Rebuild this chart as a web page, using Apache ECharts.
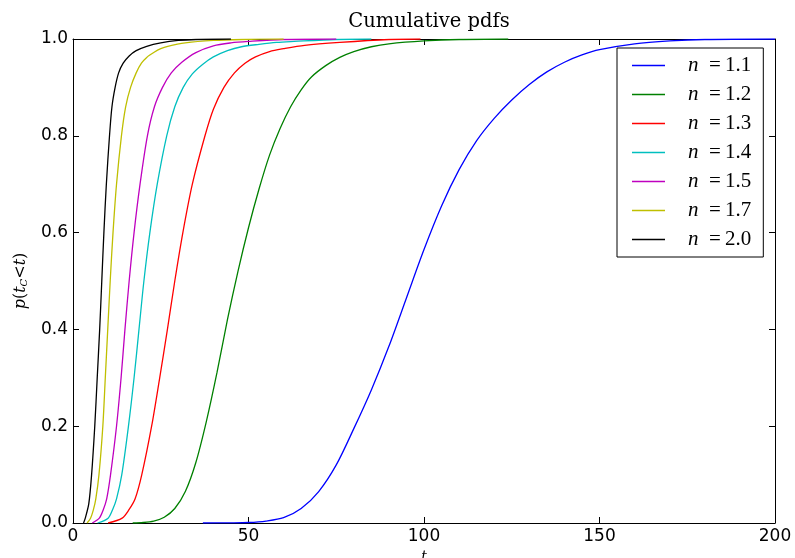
<!DOCTYPE html>
<html>
<head>
<meta charset="utf-8">
<script src="https://cdn.jsdelivr.net/npm/echarts@6/dist/echarts.min.js"></script>
<style>html,body{margin:0;padding:0;background:#fff}#c{width:795px;height:558px}</style>
</head>
<body>
<div id="c"></div>
<script>
// ---- data (t, p(t_C < t)) ----
const seriesNames = ['n=1.1', 'n=1.2', 'n=1.3', 'n=1.4', 'n=1.5', 'n=1.7', 'n=2.0'];
const seriesColors = ['#0000ff', '#008000', '#ff0000', '#00bfbf', '#bf00bf', '#bfbf00', '#000000'];
const xTicks = [0, 50, 100, 150, 200];
const yTicks = [0.0, 0.2, 0.4, 0.6, 0.8, 1.0];

const n11 = [[37,0],[45,0.0003],[50,0.001],[55,0.004],[60,0.011],[65,0.03],[70,0.065],[75,0.12],[80,0.195],[85,0.275],[90,0.365],[95,0.465],[100,0.565],[105,0.655],[110,0.73],[115,0.79],[120,0.836],[125,0.874],[130,0.906],[135,0.932],[140,0.952],[145,0.967],[150,0.978],[160,0.99],[170,0.996],[180,0.999],[200,1]];
const n12 = [[17,0],[20,0.001],[23,0.004],[26,0.012],[29,0.03],[32,0.065],[35,0.125],[38,0.21],[41,0.31],[44,0.42],[47,0.52],[50,0.61],[53,0.69],[56,0.76],[59,0.815],[62,0.86],[65,0.895],[68,0.922],[72,0.945],[76,0.962],[80,0.974],[85,0.984],[90,0.99],[100,0.996],[110,0.999],[124,1]];
const n13 = [[10,0],[14,0.01],[16,0.028],[17.7,0.05],[19.6,0.1],[22.4,0.2],[24.7,0.3],[26.9,0.4],[29,0.5],[31.3,0.6],[34,0.7],[37.6,0.8],[40,0.855],[43,0.9],[46,0.93],[49,0.95],[52,0.963],[56,0.974],[60,0.98],[66,0.987],[76,0.993],[90,0.999],[99,1]];
const n14 = [[7,0],[10,0.01],[11.3,0.028],[12.4,0.05],[13.9,0.1],[15.8,0.2],[17.4,0.3],[18.8,0.4],[20.2,0.5],[21.9,0.6],[24,0.7],[26.7,0.8],[29,0.86],[31.4,0.9],[34,0.928],[37,0.948],[40,0.963],[44,0.976],[48,0.984],[53,0.989],[58,0.993],[63,0.995],[75,0.999],[85,1]];
const n15 = [[5.5,0],[7.5,0.01],[8.6,0.027],[9.6,0.05],[10.7,0.1],[12.4,0.2],[13.7,0.3],[14.8,0.4],[16,0.5],[17.4,0.6],[19.1,0.7],[21.2,0.8],[23.2,0.86],[25.5,0.9],[28,0.93],[31,0.952],[35,0.972],[40,0.986],[45,0.992],[50,0.995],[60,0.999],[75,1]];
const n17 = [[4,0],[5,0.01],[5.8,0.027],[6.5,0.05],[7.4,0.1],[8.5,0.2],[9.2,0.3],[9.9,0.4],[10.6,0.5],[11.4,0.6],[12.4,0.7],[13.8,0.8],[15,0.86],[16.4,0.9],[18,0.93],[19.5,0.95],[21,0.962],[23,0.972],[25,0.98],[27,0.985],[32,0.992],[40,0.997],[48,0.999],[60,1]];
const n20 = [[3,0],[3.5,0.01],[4.5,0.04],[5.3,0.1],[6.2,0.2],[6.9,0.3],[7.6,0.4],[8.2,0.5],[8.8,0.6],[9.5,0.7],[10.4,0.8],[11.1,0.86],[12,0.9],[13,0.93],[14.3,0.95],[16,0.965],[18,0.976],[21,0.985],[25,0.992],[30,0.997],[35,0.999],[45,1]];
const seriesData = [n11, n12, n13, n14, n15, n17, n20];

const chart = echarts.init(document.getElementById('c'), null, {renderer: 'canvas'});
const axisLineStyle = {show: true, onZero: false, lineStyle: {color: '#000', width: 1}};
const tickStyle = {show: true, inside: true, length: 6, lineStyle: {color: '#000', width: 1}};
const labelFont = {fontFamily: 'DejaVu Sans', fontSize: 17, color: '#000'};

const option = {
  animation: false,
  backgroundColor: '#fff',
  title: {
    text: 'Cumulative pdfs',
    left: 424, top: 7, textAlign: 'center',
    textStyle: {fontFamily: 'DejaVu Serif', fontSize: 19.5, fontWeight: 'normal', color: '#000'}
  },
  grid: {left: 73, right: 20, top: 39, bottom: 35, containLabel: false, outerBoundsMode: 'none'},
  xAxis: [
    {type: 'value', min: xTicks[0], max: xTicks[xTicks.length-1], interval: 50, position: 'bottom',
     axisLine: axisLineStyle, axisTick: tickStyle, splitLine: {show: false},
     axisLabel: Object.assign({margin: 5}, labelFont),
     name: 't', nameLocation: 'middle', nameGap: 27,
     nameTextStyle: {fontFamily: 'DejaVu Serif', fontStyle: 'italic', fontSize: 14, color: '#000'}},
    {type: 'value', min: xTicks[0], max: xTicks[xTicks.length-1], interval: 50, position: 'top',
     axisLine: axisLineStyle, axisTick: tickStyle, splitLine: {show: false}, axisLabel: {show: false}}
  ],
  yAxis: [
    {type: 'value', min: yTicks[0], max: yTicks[yTicks.length-1], interval: 0.2, position: 'left',
     axisLine: axisLineStyle, axisTick: tickStyle, splitLine: {show: false},
     axisLabel: Object.assign({margin: 5, formatter: v => v.toFixed(1)}, labelFont),
     name: '{i|p}({i|t}{s|C}<{i|t})', nameLocation: 'middle', nameRotate: 90, nameGap: 44,
     nameTextStyle: {fontFamily: 'DejaVu Serif', fontSize: 16, color: '#000',
       rich: {
         i: {fontFamily: 'DejaVu Serif', fontStyle: 'italic', fontSize: 16, color: '#000'},
         s: {fontFamily: 'DejaVu Serif', fontStyle: 'italic', fontSize: 10, color: '#000', verticalAlign: 'bottom', lineHeight: 10, padding: [6, 0, 0, 0]}
       }}},
    {type: 'value', min: yTicks[0], max: yTicks[yTicks.length-1], interval: 0.2, position: 'right',
     axisLine: axisLineStyle, axisTick: tickStyle, splitLine: {show: false}, axisLabel: {show: false}}
  ],
  legend: {
    orient: 'vertical', left: 617, top: 48,
    padding: [7, 12, 7, 15], itemGap: 8, itemWidth: 33, itemHeight: 14,
    borderColor: '#000', borderWidth: 1, backgroundColor: '#fff', borderRadius: 0,
    selectedMode: false,
    data: seriesNames.map(n => ({name: n, icon: 'path://M0,0L33,0L33,1.3L0,1.3Z'})),
    formatter: name => '{i|n}\u2002=\u2009' + name.split('=')[1],
    textStyle: {fontFamily: 'Liberation Serif', fontSize: 21, color: '#000', lineHeight: 21, padding: [0, 0, 0, 18],
      rich: {i: {fontFamily: 'Liberation Serif', fontStyle: 'italic', fontSize: 21, color: '#000', lineHeight: 21}}}
  },
  series: seriesNames.map((n, i) => ({
    name: n, type: 'line', data: seriesData[i], xAxisIndex: 0, yAxisIndex: 0,
    symbol: 'none', showSymbol: false, smooth: 0.3,
    color: seriesColors[i],
    lineStyle: {color: seriesColors[i], width: 1.3},
    itemStyle: {color: seriesColors[i]}
  }))
};
chart.setOption(option);
</script>
</body>
</html>
